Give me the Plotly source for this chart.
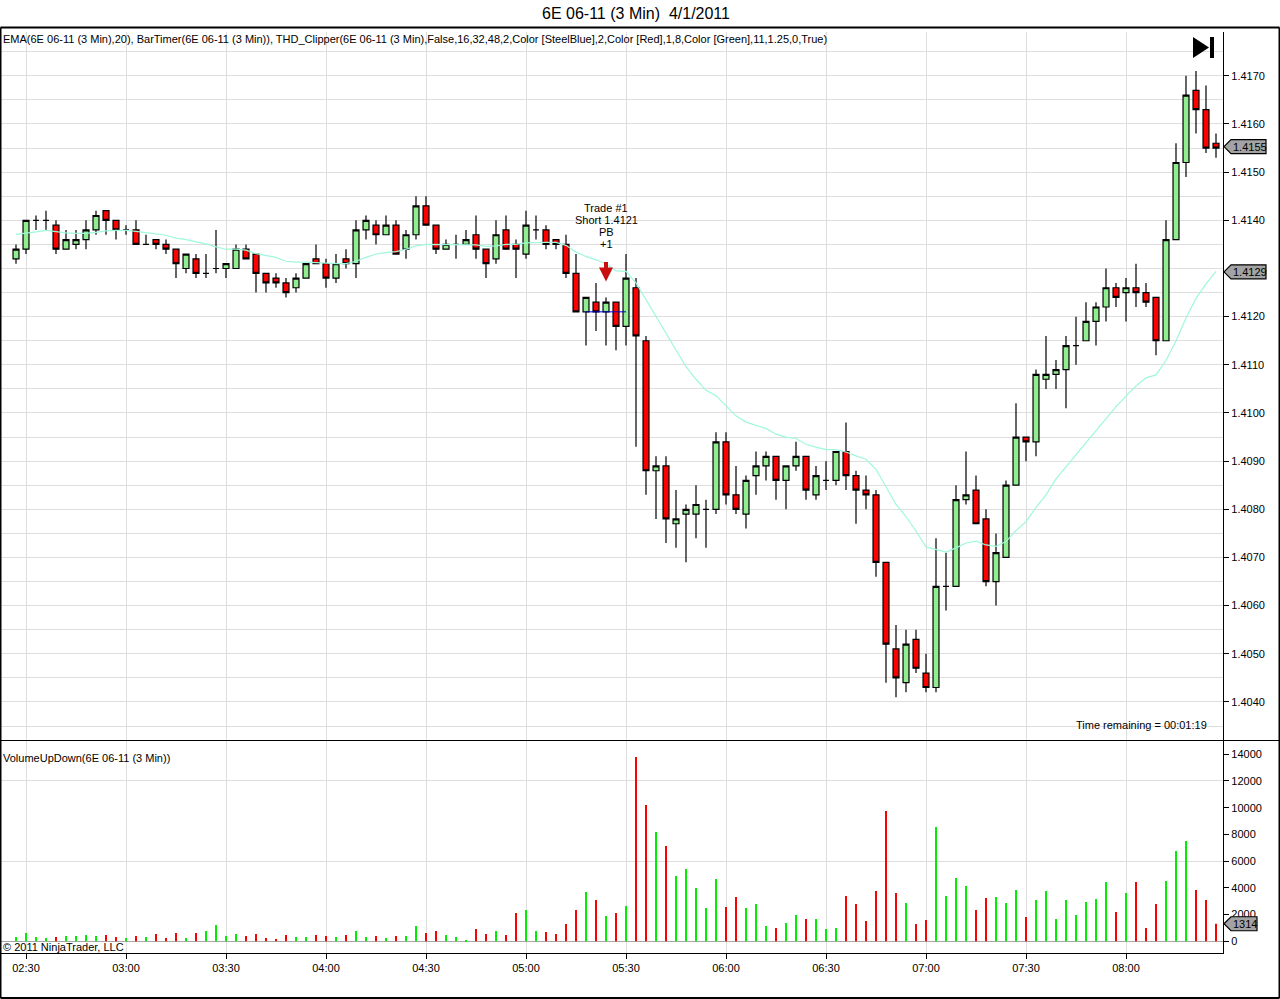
# 6E 06-11 3 minute chart with volume panel
import pandas as pd
import plotly.graph_objects as go

# Price bars, first bar is 02:27, one bar every 3 minutes
opens = [1.4132, 1.4134, 1.4140, 1.4140, 1.4139, 1.4134, 1.4135, 1.4136, 1.4138, 1.4142, 1.4140,
         1.4138, 1.4138, 1.4135, 1.4136, 1.4135, 1.4134, 1.4130, 1.4132, 1.4129, 1.4130,
         1.4130, 1.4130, 1.4134, 1.4133, 1.4129, 1.4128, 1.4127, 1.4126, 1.4128, 1.4132,
         1.4131, 1.4128, 1.4132, 1.4131, 1.4138, 1.4139, 1.4137, 1.4139, 1.4134, 1.4137,
         1.4143, 1.4139, 1.4134, 1.4135, 1.4135, 1.4137, 1.4134, 1.4132, 1.4138, 1.4135,
         1.4133, 1.4138, 1.4138, 1.4136, 1.4135, 1.4129, 1.4121, 1.4123, 1.4121, 1.4123,
         1.4118, 1.4126, 1.4115, 1.4088, 1.4089, 1.4077, 1.4079, 1.4079, 1.4080, 1.4080,
         1.4094, 1.4083, 1.4079, 1.4087, 1.4089, 1.4091, 1.4086, 1.4089, 1.4091, 1.4083,
         1.4086, 1.4086, 1.4092, 1.4087, 1.4084, 1.4083, 1.4069, 1.4051, 1.4044, 1.4053,
         1.4046, 1.4043, 1.4064, 1.4064, 1.4082, 1.4084, 1.4078, 1.4065, 1.4070, 1.4085,
         1.4095, 1.4094, 1.4107, 1.4108, 1.4109, 1.4114, 1.4115, 1.4119, 1.4122, 1.4126,
         1.4125, 1.4126, 1.4125, 1.4124, 1.4115, 1.4136, 1.4152, 1.4167, 1.4163, 1.4156]
closes = [1.4134, 1.4140, 1.4140, 1.4140, 1.4134, 1.4136, 1.4136, 1.4138, 1.4141, 1.4140, 1.4138,
          1.4138, 1.4135, 1.4135, 1.4135, 1.4134, 1.4131, 1.4133, 1.4129, 1.4129, 1.4130,
          1.4131, 1.4134, 1.4132, 1.4129, 1.4127, 1.4127, 1.4125, 1.4128, 1.4131, 1.4131,
          1.4128, 1.4131, 1.4131, 1.4138, 1.4140, 1.4137, 1.4139, 1.4133, 1.4137, 1.4143,
          1.4139, 1.4134, 1.4135, 1.4135, 1.4136, 1.4134, 1.4131, 1.4137, 1.4134, 1.4134,
          1.4139, 1.4138, 1.4135, 1.4135, 1.4129, 1.4121, 1.4124, 1.4121, 1.4123, 1.4118,
          1.4128, 1.4116, 1.4088, 1.4089, 1.4078, 1.4078, 1.4080, 1.4081, 1.4080, 1.4094,
          1.4083, 1.4080, 1.4086, 1.4089, 1.4091, 1.4086, 1.4089, 1.4091, 1.4084, 1.4087,
          1.4086, 1.4092, 1.4087, 1.4084, 1.4083, 1.4069, 1.4052, 1.4045, 1.4052, 1.4047,
          1.4043, 1.4064, 1.4064, 1.4082, 1.4083, 1.4077, 1.4065, 1.4071, 1.4085, 1.4095,
          1.4094, 1.4108, 1.4108, 1.4109, 1.4114, 1.4114, 1.4119, 1.4122, 1.4126, 1.4124,
          1.4126, 1.4125, 1.4123, 1.4115, 1.4136, 1.4152, 1.4166, 1.4163, 1.4155, 1.4155]
highs = [1.4135, 1.4140, 1.4141, 1.4142, 1.4140, 1.4138, 1.4138, 1.4140, 1.4142, 1.4142, 1.4140,
         1.4139, 1.4140, 1.4137, 1.4136, 1.4136, 1.4134, 1.4133, 1.4133, 1.4133, 1.4138,
         1.4131, 1.4135, 1.4135, 1.4133, 1.4129, 1.4129, 1.4128, 1.4129, 1.4131, 1.4135,
         1.4132, 1.4133, 1.4134, 1.4140, 1.4141, 1.4140, 1.4141, 1.4140, 1.4138, 1.4145,
         1.4145, 1.4139, 1.4136, 1.4137, 1.4138, 1.4141, 1.4134, 1.4140, 1.4141, 1.4136,
         1.4142, 1.4141, 1.4139, 1.4136, 1.4137, 1.4133, 1.4124, 1.4127, 1.4124, 1.4123,
         1.4133, 1.4128, 1.4116, 1.4091, 1.4091, 1.4084, 1.4081, 1.4085, 1.4082, 1.4096,
         1.4096, 1.4089, 1.4087, 1.4092, 1.4092, 1.4091, 1.4089, 1.4094, 1.4091, 1.4089,
         1.4090, 1.4092, 1.4098, 1.4088, 1.4087, 1.4084, 1.4069, 1.4056, 1.4055, 1.4055,
         1.4050, 1.4074, 1.4071, 1.4085, 1.4092, 1.4087, 1.4080, 1.4075, 1.4086, 1.4102,
         1.4095, 1.4109, 1.4116, 1.4111, 1.4116, 1.4120, 1.4123, 1.4123, 1.4130, 1.4127,
         1.4128, 1.4131, 1.4127, 1.4124, 1.4140, 1.4156, 1.4170, 1.4171, 1.4168, 1.4158]
lows = [1.4131, 1.4133, 1.4138, 1.4138, 1.4133, 1.4134, 1.4134, 1.4134, 1.4137, 1.4137, 1.4136,
        1.4137, 1.4135, 1.4135, 1.4134, 1.4133, 1.4128, 1.4129, 1.4128, 1.4128, 1.4129,
        1.4128, 1.4130, 1.4132, 1.4125, 1.4125, 1.4126, 1.4124, 1.4125, 1.4128, 1.4131,
        1.4126, 1.4127, 1.4130, 1.4128, 1.4136, 1.4135, 1.4137, 1.4133, 1.4132, 1.4136,
        1.4139, 1.4133, 1.4134, 1.4132, 1.4135, 1.4132, 1.4128, 1.4131, 1.4134, 1.4128,
        1.4132, 1.4136, 1.4134, 1.4134, 1.4128, 1.4121, 1.4114, 1.4117, 1.4114, 1.4113,
        1.4114, 1.4093, 1.4083, 1.4078, 1.4073, 1.4072, 1.4069, 1.4074, 1.4072, 1.4079,
        1.4081, 1.4079, 1.4076, 1.4083, 1.4086, 1.4082, 1.4080, 1.4088, 1.4082, 1.4082,
        1.4084, 1.4085, 1.4084, 1.4077, 1.4080, 1.4066, 1.4044, 1.4041, 1.4042, 1.4046,
        1.4042, 1.4042, 1.4059, 1.4064, 1.4081, 1.4077, 1.4064, 1.4060, 1.4070, 1.4085,
        1.4090, 1.4091, 1.4105, 1.4105, 1.4101, 1.4110, 1.4115, 1.4114, 1.4119, 1.4122,
        1.4119, 1.4122, 1.4122, 1.4112, 1.4115, 1.4136, 1.4149, 1.4158, 1.4154, 1.4153]
ema = [1.41371, 1.41373, 1.41376, 1.41379, 1.41376, 1.41374, 1.41373, 1.41373, 1.41375, 1.41378, 1.41379,
       1.41379, 1.41377, 1.41375, 1.41372, 1.41369, 1.41363, 1.41360, 1.41356, 1.41351, 1.41345,
       1.41340, 1.41340, 1.41338, 1.41331, 1.41327, 1.41323, 1.41315, 1.41313, 1.41313, 1.41312,
       1.41310, 1.41310, 1.41310, 1.41315, 1.41323, 1.41330, 1.41333, 1.41335, 1.41340, 1.41347,
       1.41350, 1.41350, 1.41350, 1.41350, 1.41350, 1.41349, 1.41346, 1.41347, 1.41350, 1.41350,
       1.41353, 1.41354, 1.41354, 1.41354, 1.41348, 1.41334, 1.41325, 1.41318, 1.41310, 1.41295,
       1.41294, 1.41270, 1.41235, 1.41200, 1.41165, 1.41130, 1.41096, 1.41070, 1.41047, 1.41036,
       1.41014, 1.40994, 1.40981, 1.40974, 1.40968, 1.40956, 1.40950, 1.40947, 1.40935, 1.40929,
       1.40924, 1.40924, 1.40919, 1.40911, 1.40904, 1.40883, 1.40847, 1.40810, 1.40785, 1.40755,
       1.40722, 1.40716, 1.40711, 1.40720, 1.40730, 1.40734, 1.40726, 1.40723, 1.40733, 1.40756,
       1.40774, 1.40804, 1.40830, 1.40863, 1.40888, 1.40913, 1.40938, 1.40965, 1.40990, 1.41013,
       1.41035, 1.41056, 1.41073, 1.41079, 1.41109, 1.41150, 1.41197, 1.41238, 1.41268, 1.41294]

# Volume per bar, g = up bar, r = down bar
volumes = [324, 624, 324, 250, 324, 400, 400, 474, 400, 474, 324,
           250, 400, 324, 549, 250, 624, 250, 624, 774, 1223,
           400, 549, 400, 549, 250, 175, 474, 324, 324, 474,
           400, 324, 474, 774, 324, 400, 250, 400, 400, 1148,
           624, 774, 474, 324, 100, 924, 549, 774, 474, 2122,
           2346, 774, 699, 549, 1298, 2346, 3694, 3095, 1897, 2122,
           2646, 13803, 10209, 8187, 7139, 4892, 5416, 3994, 2496, 4668,
           2571, 3320, 2496, 2796, 1148, 998, 1373, 1972, 1672, 1672,
           924, 998, 3395, 2796, 1523, 3769, 9759, 3619, 2870, 1298,
           1597, 8561, 3395, 4742, 4143, 2346, 3245, 3320, 2870, 3844,
           1822, 3095, 3769, 1672, 3095, 1972, 2945, 3170, 4443, 2197,
           3619, 4443, 998, 2796, 4518, 6764, 7513, 3844, 3095, 1314]
vol_dirs = ["g", "g", "g", "g", "r", "g", "g", "g", "g", "r", "r",
            "g", "r", "g", "r", "r", "r", "g", "r", "g", "g",
            "g", "g", "r", "r", "r", "r", "r", "g", "g", "r",
            "r", "g", "r", "g", "g", "r", "g", "r", "g", "g",
            "r", "r", "g", "g", "g", "r", "r", "g", "r", "r",
            "g", "g", "r", "r", "r", "r", "g", "r", "g", "r",
            "g", "r", "r", "g", "r", "g", "g", "g", "g", "g",
            "r", "r", "g", "g", "g", "r", "g", "g", "r", "g",
            "g", "g", "r", "r", "r", "r", "r", "r", "g", "r",
            "r", "g", "g", "g", "g", "r", "r", "g", "g", "g",
            "r", "g", "g", "g", "g", "g", "g", "g", "g", "r",
            "g", "r", "r", "r", "g", "g", "g", "r", "r", "r"]

times = pd.date_range("2011-04-01 02:27", periods=len(opens), freq="3min")

TITLE = "6E 06-11 (3 Min)\u00a0\u00a04/1/2011"
PRICE_LABEL = ("EMA(6E 06-11 (3 Min),20), BarTimer(6E 06-11 (3 Min)), THD_Clipper(6E 06-11 (3 Min),"
               "False,16,32,48,2,Color [SteelBlue],2,Color [Red],1,8,Color [Green],11,1.25,0,True)")
VOLUME_LABEL = "VolumeUpDown(6E 06-11 (3 Min))"
trade_lines = ["Trade #1", "Short 1.4121", "PB", "+1"]
trade_time = "2011-04-01 05:24"
entry_price = 1.4121
entry_times = ["2011-04-01 05:18", "2011-04-01 05:30"]
last_price = 1.4155
last_ema = 1.4129
last_volume = 1314
# 1.4130 sits behind the 1.4129 tag in the original, so no tick for it
price_ticks = [1.4040, 1.4050, 1.4060, 1.4070, 1.4080, 1.4090, 1.4100, 1.4110, 1.4120,
               1.4140, 1.4150, 1.4160, 1.4170]

FONT = "Liberation Sans"
GRID = "#dedede"
W, H = 1280, 999
M_L, M_R, M_T, M_B = 0, 57, 32, 46
PLOT_W = W - M_L - M_R
PLOT_H = H - M_T - M_B


def px_x(x):
    return (x - M_L) / PLOT_W


def px_y(y):
    return (H - M_B - y) / PLOT_H


def text(x, y, s, size=11, anchor="left"):
    # annotations carry about 2px of padding
    shift = {"left": -2, "right": 2, "center": 0}[anchor]
    return dict(x=px_x(x), y=px_y(y), xref="paper", yref="paper", text=s, showarrow=False, xshift=shift,
                xanchor=anchor, yanchor="middle", font=dict(family=FONT, size=size, color="black"))


fig = go.Figure()

fig.add_trace(go.Candlestick(x=times, open=opens, high=highs, low=lows, close=closes,
                             yaxis="y", whiskerwidth=0,
                             increasing=dict(fillcolor="#90ee90", line=dict(color="black", width=1.2)),
                             decreasing=dict(fillcolor="#ff0000", line=dict(color="black", width=1.2))))
fig.add_trace(go.Scatter(x=times, y=ema, mode="lines", yaxis="y",
                         line=dict(color="#9ff7dc", width=1.2)))
fig.add_trace(go.Scatter(x=entry_times, y=[entry_price, entry_price], mode="lines", yaxis="y",
                         line=dict(color="#0000c8", width=1)))
fig.add_trace(go.Bar(x=times, y=volumes, yaxis="y2", width=36000,
                     marker=dict(color=["#00ee00" if d == "g" else "#ff0000" for d in vol_dirs],
                                 line=dict(width=0))))

annotations = [text(3, 39, PRICE_LABEL, 11),
               text(3, 758, VOLUME_LABEL, 11),
               text(3, 947, "\u00a9 2011 NinjaTrader, LLC", 11),
               text(1207, 725, "Time remaining = 00:01:19", 11, "right")]
for i, line in enumerate(trade_lines):
    annotations.append(text(606, 208 + i * 12, line, 11, "center"))

# Trade arrow
annotations.append(dict(x=trade_time, y=1.41273, xref="x", yref="y", ax=0, ay=-21, text="",
                        showarrow=True, arrowhead=2, arrowsize=0.7, arrowwidth=4,
                        arrowcolor="#c81010"))

# Last value tags on the right axis, price tags sit a little above their value
tag_path = "M 1,1.5 L 8,8.5 L 43,8.5 L 43,-5.5 L 8,-5.5 Z"
vol_tag_path = "M 1,0 L 8,7 L 34,7 L 34,-7 L 8,-7 Z"
shapes = []
for val, path, yref in [(last_price, tag_path, "y"), (last_ema, tag_path, "y"),
                        (last_volume, vol_tag_path, "y2")]:
    shapes.append(dict(type="path", path=path, xref="paper", yref=yref, xsizemode="pixel",
                       ysizemode="pixel", xanchor=1, yanchor=val, fillcolor="#a3a3a3",
                       line=dict(color="black", width=1.2)))
    label = f"{val:.4f}" if yref == "y" else str(val)
    annotations.append(dict(x=1, y=val, xref="paper", yref=yref, xshift=8,
                            yshift=1.5 if yref == "y" else 0, text=label, showarrow=False,
                            xanchor="left", yanchor="middle",
                            font=dict(family=FONT, size=11, color="black")))

# Frame lines
for x0, y0, x1, y1, width in [(0.5, 27.5, 1279.5, 27.5, 2), (0.5, 27.5, 0.5, 998, 2),
                              (1279.5, 27.5, 1279.5, 998, 2), (0.5, 998, 1279.5, 998, 2),
                              (0.5, 740.5, 1279.5, 740.5, 1.2)]:
    shapes.append(dict(type="line", xref="paper", yref="paper", x0=px_x(x0), y0=px_y(y0),
                       x1=px_x(x1), y1=px_y(y1), line=dict(color="black", width=width)))

# Skip to end button
shapes.append(dict(type="path", xref="paper", yref="paper", fillcolor="black", line=dict(width=0),
                   path=f"M {px_x(1193)},{px_y(37)} L {px_x(1209)},{px_y(47.5)} L {px_x(1193)},{px_y(58)} Z"))
shapes.append(dict(type="rect", xref="paper", yref="paper", fillcolor="black", line=dict(width=0),
                   x0=px_x(1210), x1=px_x(1214), y0=px_y(37), y1=px_y(58)))

fig.update_layout(
    width=W, height=H,
    margin=dict(l=M_L, r=M_R, t=M_T, b=M_B, pad=0),
    paper_bgcolor="white", plot_bgcolor="white",
    showlegend=False, hovermode=False, boxgap=0.15,
    font=dict(family=FONT, size=11, color="black"),
    title=dict(text=TITLE, x=636 / W, y=1 - 13 / H, xanchor="center", yanchor="middle",
               font=dict(family=FONT, size=16, color="black")),
    annotations=annotations, shapes=shapes,
    xaxis=dict(type="date", anchor="y2", range=["2011-04-01 02:22:12", "2011-04-01 08:29:06"],
               rangeslider=dict(visible=False),
               tick0="2011-04-01 02:30", dtick=1800000, tickformat="%H:%M",
               showgrid=True, gridcolor=GRID, gridwidth=1, zeroline=False,
               ticks="outside", ticklen=5, tickcolor="black", tickwidth=1,
               showline=True, linecolor="black", linewidth=1.2),
    yaxis=dict(domain=[213 / PLOT_H, 1], range=[1.40321, 1.41791], side="right", anchor="x",
               tickmode="array", tickvals=price_ticks, tickformat=".4f",
               showgrid=True, gridcolor=GRID, gridwidth=1, zeroline=False,
               minor=dict(tick0=1.40, dtick=0.0005, showgrid=True, gridcolor=GRID, gridwidth=1, ticklen=0),
               ticks="outside", ticklen=5, tickcolor="black", tickwidth=1,
               showline=True, linecolor="black", linewidth=1.2),
    yaxis2=dict(domain=[0, 212 / PLOT_H], range=[-876, 14993], side="right", anchor="x",
                tick0=0, dtick=2000, tickformat="d", showgrid=False,
                minor=dict(tickmode="array", tickvals=[6000, 12000], showgrid=True, gridcolor=GRID,
                           gridwidth=1, ticklen=0),
                zeroline=True, zerolinecolor="#a6a6a6", zerolinewidth=1.2,
                ticks="outside", ticklen=5, tickcolor="black", tickwidth=1,
                showline=True, linecolor="black", linewidth=1.2),
)

fig.write_html("out.html", config={"displayModeBar": False},
               post_script="document.body.style.margin='0';document.body.style.overflow='hidden';")
